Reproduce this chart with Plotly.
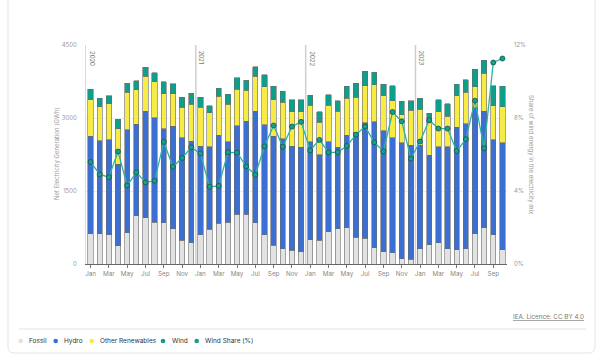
import plotly.graph_objects as go

# ---------------- data (GWh, monthly Jan 2020 - Oct 2023) ----------------
months = [f"{y}-{m:02d}" for y in (2020, 2021, 2022) for m in range(1, 13)] + \
         [f"2023-{m:02d}" for m in range(1, 11)]
month_abbr = ["Jan", "Feb", "Mar", "Apr", "May", "Jun",
              "Jul", "Aug", "Sep", "Oct", "Nov", "Dec"]

fossil = [620, 620, 600, 370, 640, 990, 950, 860, 850, 720, 490, 440,
          600, 710, 840, 860, 1020, 1020, 850, 600, 390, 310, 280, 250,
          500, 490, 660, 720, 740, 550, 530, 330, 250, 230, 110, 100,
          310, 400, 440, 310, 290, 310, 620, 740, 600, 290]
hydro = [2010, 1910, 1950, 1680, 2120, 1880, 2190, 2150, 1930, 2110, 2100, 2080,
         1820, 1700, 1810, 1650, 1820, 1910, 2290, 2260, 2240, 2260, 2140, 2150,
         2010, 1750, 1850, 1680, 1910, 2150, 2370, 2590, 2490, 2360, 2380, 2340,
         2130, 1830, 1970, 2100, 2520, 2570, 2590, 2400, 1950, 2200]
other_renewables = [740, 700, 740, 730, 770, 710, 720, 730, 720, 670, 630, 760,
                    800, 700, 800, 770, 750, 640, 720, 780, 750, 750, 710, 730,
                    750, 670, 750, 740, 760, 730, 760, 760, 720, 760, 580, 720,
                    740, 670, 720, 630, 650, 650, 430, 780, 700, 740]
wind = [220, 180, 170, 190, 180, 190, 180, 190, 250, 200, 210, 230,
        210, 140, 160, 210, 240, 210, 190, 250, 270, 230, 250, 250,
        210, 220, 220, 210, 240, 280, 300, 260, 230, 310, 270, 190,
        230, 200, 240, 250, 230, 260, 360, 270, 410, 420]
wind_share = [5.59, 4.91, 4.76, 6.16, 4.30, 5.02, 4.47, 4.56, 6.69, 5.33, 5.81, 6.39,
              6.06, 4.23, 4.28, 6.12, 6.10, 5.35, 4.89, 6.45, 7.59, 6.43, 7.53, 7.79,
              6.23, 6.80, 6.12, 6.12, 6.47, 7.09, 7.53, 6.67, 6.17, 8.33, 7.82, 5.78,
              6.71, 7.88, 7.42, 7.42, 6.19, 6.84, 8.95, 6.34, 11.04, 11.26]

left_ticks = [0, 1500, 3000, 4500]
right_ticks = [0, 4, 8, 12]
right_ticktext = ["0%", "4%", "8%", "12%"]

# ---------------- styling ----------------
W, H = 602, 361
ML, MR, MT, MB = 86, 95, 45, 97
PW, PH = W - ML - MR, H - MT - MB
FONT = "Inter, Open Sans, sans-serif"

C_FOSSIL = "#e2e2e2"
C_HYDRO = "#3b70d2"
C_OTHER = "#f7ec45"
C_WIND = "#0f9e8a"
C_LINE = "#2ab4a2"
OUTLINE = "#6a6a6a"


def px(x):
    return (x - ML) / PW


def py(y):
    return (H - MB - y) / PH


x_idx = list(range(len(months)))

fig = go.Figure()
for name, vals, col in [("Fossil", fossil, C_FOSSIL), ("Hydro", hydro, C_HYDRO),
                        ("Other Renewables", other_renewables, C_OTHER),
                        ("Wind", wind, C_WIND)]:
    fig.add_trace(go.Bar(x=x_idx, y=vals, name=name, showlegend=False,
                         marker=dict(color=col, line=dict(color=OUTLINE, width=0.6))))

fig.add_trace(go.Scatter(x=x_idx, y=wind_share, name="Wind Share (%)", yaxis="y2",
                         mode="lines+markers", showlegend=False,
                         line=dict(color=C_LINE, width=1.3),
                         marker=dict(size=5, color="#14a08e",
                                     line=dict(color="#1d4f4a", width=0.8))))

tickvals = [i for i in x_idx if i % 2 == 0]
ticktext = [month_abbr[int(months[i][5:]) - 1] for i in tickvals]

shapes = []
annotations = []

# card
x0, x1, y0, y1, r = px(8), px(595), py(-10), py(353), 6
rx, ry = r / PW, r / PH
path = (f"M {x0+rx} {y0} L {x1-rx} {y0} Q {x1} {y0} {x1} {y0-ry} "
        f"L {x1} {y1+ry} Q {x1} {y1} {x1-rx} {y1} L {x0+rx} {y1} "
        f"Q {x0} {y1} {x0} {y1+ry} L {x0} {y0-ry} Q {x0} {y0} {x0+rx} {y0} Z")
shapes.append(dict(type="path", xref="paper", yref="paper", path=path,
                   line=dict(color="#e4e4e4", width=1), fillcolor="rgba(0,0,0,0)", layer="below"))
# separator
shapes.append(dict(type="line", xref="paper", yref="paper", x0=px(19), x1=px(586),
                   y0=py(329), y1=py(329), line=dict(color="#f0f0f0", width=2)))

# year separators
for i, m in enumerate(months):
    if m.endswith("-01"):
        if i > 0:
            shapes.append(dict(type="line", xref="x", yref="paper", x0=i - 0.5, x1=i - 0.5,
                               y0=0, y1=1, line=dict(color="#cfcfcf", width=1.5), layer="below"))
        annotations.append(dict(x=i - 0.5, y=1, xref="x", yref="paper", text=m[:4],
                                textangle=90, showarrow=False, xanchor="left", yanchor="top",
                                xshift=1, yshift=-4, font=dict(size=6, color="#777", family=FONT)))

# axis titles
annotations.append(dict(x=px(57), y=py(154), xref="paper", yref="paper",
                        text="Net Electricity Generation (GWh)", textangle=-90, showarrow=False,
                        xanchor="center", yanchor="middle",
                        font=dict(size=6, color="#999", family=FONT)))
annotations.append(dict(x=px(531), y=py(155), xref="paper", yref="paper",
                        text="Share of wind energy in the electricity mix", textangle=90,
                        showarrow=False, xanchor="center", yanchor="middle",
                        font=dict(size=6, color="#999", family=FONT)))

# source
annotations.append(dict(x=px(586), y=py(317), xref="paper", yref="paper",
                        text="<u>IEA. Licence: CC BY 4.0</u>", showarrow=False,
                        xanchor="right", yanchor="middle",
                        font=dict(size=6.3, color="#777", family=FONT)))

# legend (custom, circle markers)
legend_items = [("Fossil", C_FOSSIL, 20.7), ("Hydro", C_HYDRO, 55.7),
                ("Other Renewables", C_OTHER, 91.7), ("Wind", C_WIND, 163),
                ("Wind Share (%)", "#13a08d", 196.7)]
for label, col, cx in legend_items:
    rr = 2.3
    shapes.append(dict(type="circle", xref="paper", yref="paper",
                       x0=px(cx - rr), x1=px(cx + rr), y0=py(341 + rr), y1=py(341 - rr),
                       fillcolor=col, line=dict(width=0)))
    annotations.append(dict(x=px(cx + 6.5), y=py(341), xref="paper", yref="paper",
                            text=label, showarrow=False, xanchor="left", yanchor="middle",
                            font=dict(size=6.5, color="#333", family=FONT)))

fig.update_layout(
    width=W, height=H, autosize=False,
    margin=dict(l=ML, r=MR, t=MT, b=MB, pad=0),
    barmode="stack", bargap=0.42,
    paper_bgcolor="white", plot_bgcolor="white",
    font=dict(family=FONT, size=6.5, color="#999"),
    showlegend=False,
    xaxis=dict(range=[-0.5, len(months) - 0.5], tickvals=tickvals, ticktext=ticktext,
               ticks="outside", ticklen=3, tickcolor="#777", tickwidth=1,
               showline=True, linecolor="#666", linewidth=1, showgrid=False, zeroline=False,
               tickfont=dict(size=6.3, color="#888")),
    yaxis=dict(range=[0, 4500], tickvals=left_ticks, showgrid=True, gridcolor="#ebebeb",
               gridwidth=1, showline=True, linecolor="#dcdcdc", zeroline=False, ticks="",
               ticklabelstandoff=7, tickfont=dict(size=6, color="#999")),
    yaxis2=dict(range=[0, 12], tickvals=right_ticks, ticktext=right_ticktext, overlaying="y",
                side="right", showgrid=False, zeroline=False, showline=False, ticks="",
                ticklabelstandoff=6, tickfont=dict(size=6, color="#999")),
    shapes=shapes, annotations=annotations,
)

fig.write_html("out.html", config={"displayModeBar": False},
               post_script="document.body.style.margin='0';document.body.style.overflow='hidden';")
